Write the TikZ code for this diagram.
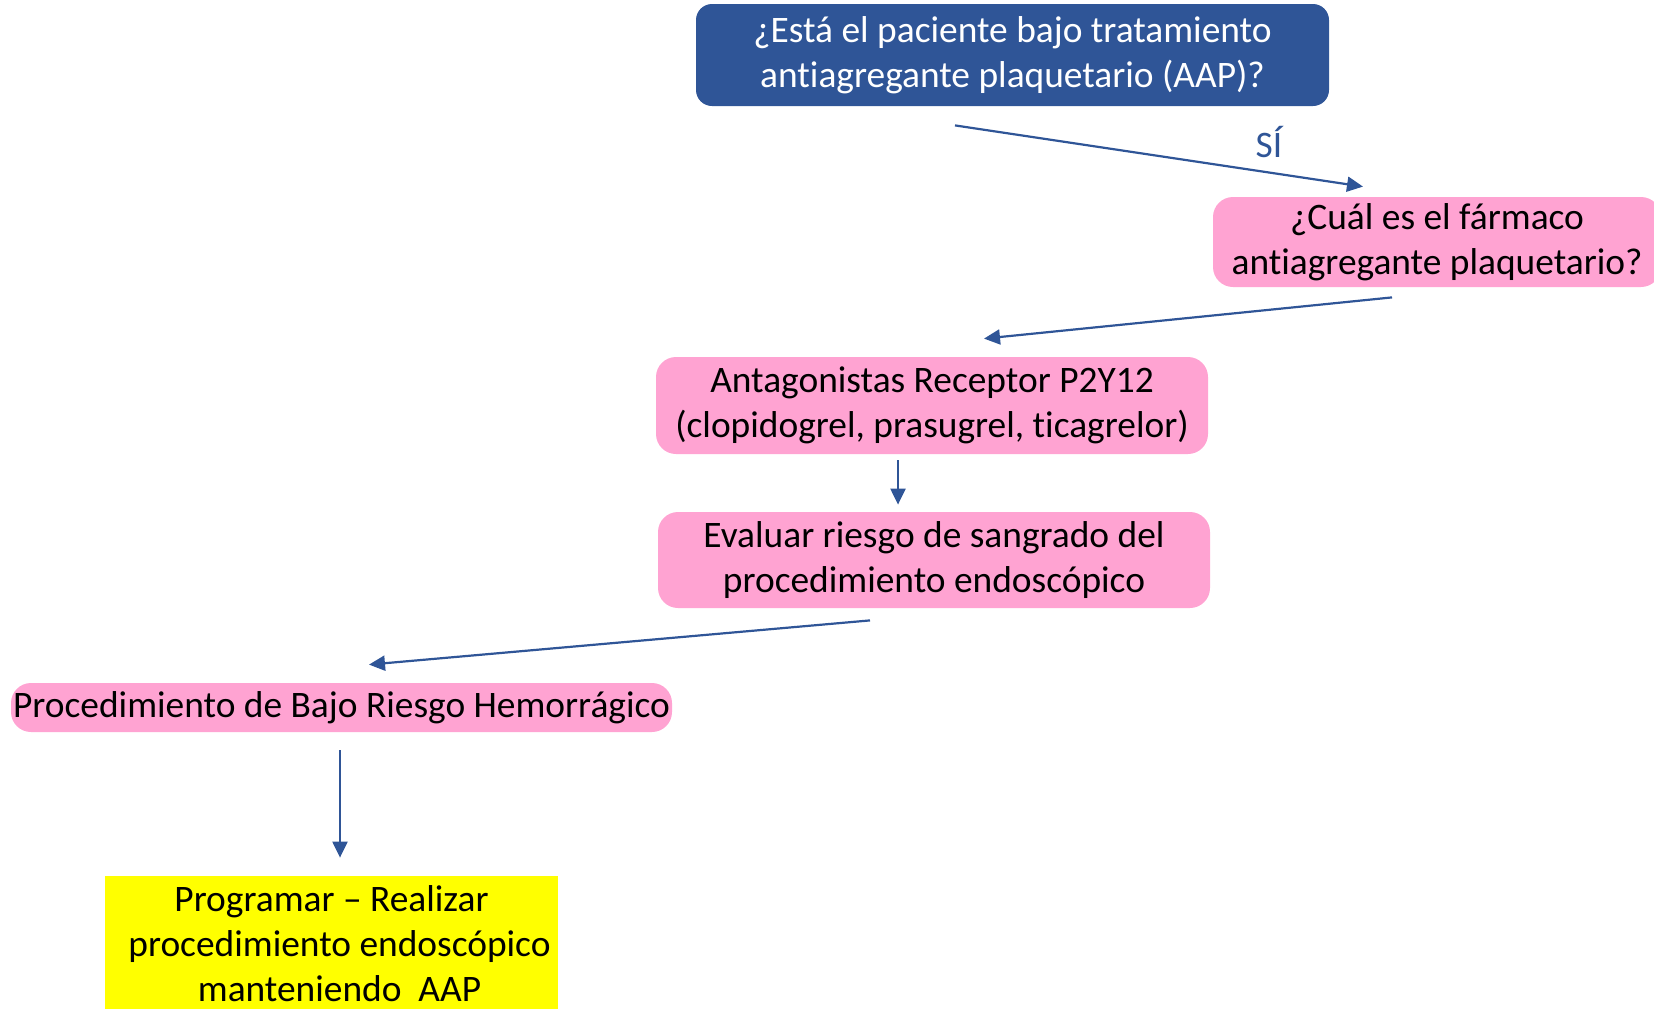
\documentclass[tikz,border=0pt]{standalone}
\usepackage{fontspec}
\setmainfont[Ligatures=NoCommon]{Carlito}
\usetikzlibrary{arrows.meta,calc}
\definecolor{darkblue}{HTML}{2F5597}
\definecolor{softpink}{HTML}{FFA3D2}
\definecolor{brightyellow}{HTML}{FFFF00}
\begin{document}
\begin{tikzpicture}[x=0.5pt,y=-0.5pt,
  txt/.style={font=\fontsize{18.7}{22.5}\selectfont, align=center, inner sep=0pt},
  question/.style={txt, fill=darkblue, text=white, rounded corners=8pt},
  pinkbox/.style={txt, fill=softpink, text=black, rounded corners=10pt},
  yellowbox/.style={txt, fill=brightyellow, text=black},
  flow/.style={draw=darkblue, line width=1.1pt, -{Triangle[length=8pt,width=7.5pt]}}
]
\clip (0,0) rectangle (1654,1008);
\useasboundingbox (0,0) rectangle (1654,1008);

% boxes
\node[question, minimum width=316.5pt, minimum height=51pt] (q1) at (1012.5,55)
  {¿Está el paciente bajo tratamiento\\antiagregante plaquetario (AAP)?};
\node[pinkbox, minimum width=224pt, minimum height=45pt] (q2) at (1437,242)
  {¿Cuál es el fármaco\\antiagregante plaquetario?};
\node[pinkbox, minimum width=276pt, minimum height=48.5pt] (p2y) at (932,405.5)
  {Antagonistas Receptor P2Y12\\(clopidogrel, prasugrel, ticagrelor)};
\node[pinkbox, minimum width=276pt, minimum height=48pt] (eval) at (934,560)
  {Evaluar riesgo de sangrado del\\procedimiento endoscópico};
\node[pinkbox, minimum width=330.5pt, minimum height=24.5pt] (low) at (341.5,707.5)
  {Procedimiento de Bajo Riesgo Hemorrágico};
\node[yellowbox, minimum width=226.5pt, minimum height=68pt] (act) at (331.5,944)
  {Programar – Realizar\\\hspace*{8pt}procedimiento endoscópico\\\hspace*{8pt}manteniendo\ \ AAP};

% connectors
\draw[flow] ($(q1.south)+(-57.5,19)$) -- ($(q2.north)+(-74,-10)$);
\node[txt, text=darkblue] (yes) at (1269,142) {SÍ};
\draw[flow] ($(q2.south)+(-45,10)$) -- ($(p2y.north)+(52,-18)$);
\draw[flow] ($(p2y.south)+(-34,6)$) -- ($(eval.north)+(-36,-7)$);
\draw[flow] ($(eval.south)+(-64,12)$) -- ($(low.north)+(27.5,-18)$);
\draw[flow] ($(low.south)+(-1.5,18)$) -- ($(act.north)+(8.5,-18)$);
\end{tikzpicture}
\end{document}
